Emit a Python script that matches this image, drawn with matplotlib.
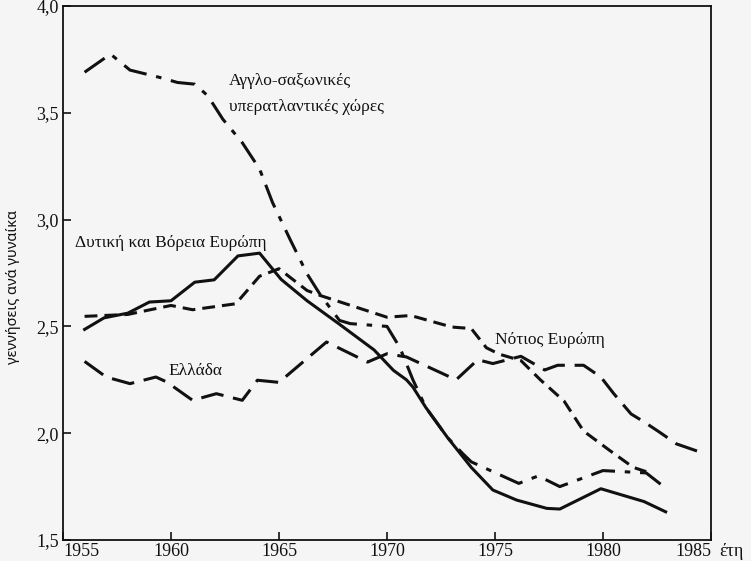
import numpy as np
import matplotlib
matplotlib.use('Agg')
import matplotlib.pyplot as plt

# data (births per woman)
yrs_anglo = [1956, 1957.2, 1958.1, 1959.5, 1960.3, 1961.1, 1961.7, 1962.4, 1963.3, 1964.1,
             1964.7, 1965.5, 1966.3, 1966.9, 1967.8, 1968.3, 1970.0, 1970.6, 1971.2, 1971.8,
             1972.8, 1973.5, 1973.9, 1974.9, 1976.1, 1977.0, 1978.0, 1980.0, 1982.0, 1983.0]
val_anglo = [3.69, 3.775, 3.70, 3.665, 3.642, 3.634, 3.58, 3.47, 3.36, 3.237,
             3.08, 2.91, 2.746, 2.65, 2.528, 2.513, 2.50, 2.40, 2.25, 2.12,
             1.98, 1.905, 1.866, 1.82, 1.765, 1.80, 1.75, 1.825, 1.814, 1.735]

yrs_west = [1956, 1956.9, 1958.0, 1959.0, 1960.0, 1961.1, 1962.0, 1963.1, 1964.1, 1965.1,
            1966.3, 1967.8, 1969.4, 1970.3, 1970.9, 1971.2, 1971.8, 1972.8, 1973.9, 1974.9,
            1976.0, 1977.4, 1978.0, 1979.9, 1981.9, 1982.9]
val_west = [2.486, 2.54, 2.562, 2.614, 2.62, 2.707, 2.718, 2.83, 2.843, 2.72,
            2.62, 2.51, 2.39, 2.294, 2.25, 2.216, 2.12, 1.98, 1.84, 1.734,
            1.687, 1.648, 1.645, 1.74, 1.68, 1.632]

yrs_south = [1956, 1958.0, 1958.9, 1960.0, 1961.0, 1963.0, 1964.1, 1965.0, 1966.3, 1966.9,
             1970.0, 1971.1, 1973.0, 1973.9, 1974.6, 1975.2, 1976.2, 1977.1, 1978.2, 1979.1,
             1980.3, 1981.4, 1982.0]
val_south = [2.547, 2.556, 2.575, 2.598, 2.578, 2.606, 2.735, 2.77, 2.668, 2.645,
             2.543, 2.551, 2.497, 2.49, 2.40, 2.37, 2.34, 2.25, 2.15, 2.01,
             1.92, 1.84, 1.82]

yrs_greece = [1956, 1957.0, 1958.1, 1959.3, 1959.8, 1961.0, 1962.1, 1963.3, 1964.0, 1965.0,
              1967.2, 1969.1, 1970.0, 1970.9, 1973.2, 1974.2, 1974.9, 1976.2, 1977.3, 1977.9,
              1979.1, 1979.9, 1980.5, 1981.3, 1981.9, 1982.6, 1983.4, 1984.4]
val_greece = [2.336, 2.263, 2.232, 2.263, 2.24, 2.154, 2.185, 2.154, 2.248, 2.238,
              2.427, 2.333, 2.372, 2.357, 2.25, 2.344, 2.326, 2.36, 2.296, 2.318,
              2.318, 2.263, 2.185, 2.09, 2.053, 2.006, 1.95, 1.915]

xticks = [1955, 1960, 1965, 1970, 1975, 1980, 1985]
yticks = [1.5, 2.0, 2.5, 3.0, 3.5, 4.0]

serif = ['Liberation Serif', 'DejaVu Serif']
bg = '#f5f5f5'

fig = plt.figure(figsize=(7.51, 5.61), dpi=100, facecolor=bg)
ax = fig.add_axes([63/751, 21/561, 648/751, 534/561], facecolor=bg)

lw = 2.2
col = '#111111'
ax.plot(yrs_anglo, val_anglo, color=col, lw=lw, dashes=(8, 3.2, 1.8, 3.2))
ax.plot(yrs_west, val_west, color=col, lw=lw)
ax.plot(yrs_south, val_south, color=col, lw=lw, dashes=(4.2, 2.3))
ax.plot(yrs_greece, val_greece, color=col, lw=lw, dashes=(7.5, 3.2))

ax.set_xlim(1955, 1985)
ax.set_ylim(1.5, 4.0)
ax.set_xticks(xticks)
ax.set_yticks(yticks)
ax.set_xticklabels([str(x) for x in xticks], fontfamily=serif, fontsize=13)
ax.set_yticklabels([('%.1f' % v).replace('.', ',') for v in yticks], fontfamily=serif, fontsize=13)
xl = ax.get_xticklabels()
xl[0].set_horizontalalignment('left')
xl[-1].set_horizontalalignment('right')
ax.tick_params(direction='in', length=6, width=1.2, colors=col, pad=3)
ax.tick_params(axis='x', pad=2)
for s in ax.spines.values():
    s.set_linewidth(1.3)
    s.set_color(col)

txt = dict(fontfamily=serif, fontsize=12.5, color=col)
ax.text(1962.7, 3.65, 'Αγγλο-σαξωνικές', va='center', ha='left', **txt)
ax.text(1962.7, 3.528, 'υπερατλαντικές χώρες', va='center', ha='left', **txt)
ax.text(1955.55, 2.89, 'Δυτική και Βόρεια Ευρώπη', va='center', ha='left', **txt)
ax.text(1959.9, 2.29, 'Ελλάδα', va='center', ha='left', **txt)
ax.text(1975.0, 2.435, 'Νότιος Ευρώπη', va='center', ha='left', **txt)

fig.text(14/751, 1-287/561, 'γεννήσεις ανά γυναίκα', rotation=90, ha='center', va='center',
         fontfamily=['Noto Sans', 'DejaVu Sans'], fontsize=10.5, color=col)
fig.text(731/751, 1-551/561, 'έτη', ha='center', va='center', fontfamily=serif, fontsize=13, color=col)

fig.savefig('out.png', dpi=100, facecolor=bg)
